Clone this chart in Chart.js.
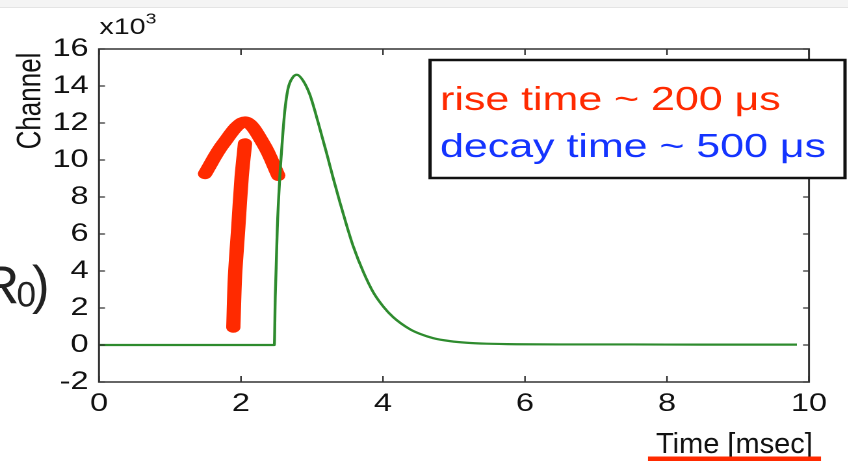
<!DOCTYPE html>
<html><head><meta charset="utf-8">
<script src="https://cdn.jsdelivr.net/npm/chart.js@4.4.1/dist/chart.umd.min.js"></script>
<style>
html,body{margin:0;padding:0;background:#fff;overflow:hidden}
#stage{position:relative;width:848px;height:461px;overflow:hidden;background:#fff}
#wrap{position:absolute;left:0;top:0;width:652px;height:461px;transform:scaleX(1.3);transform-origin:0 0}
</style></head><body>
<div id="stage"><div id="wrap"><canvas id="c"></canvas></div></div>
<script>
// ---- data (time in msec, channel in units of 10^3) ----
const timeMs   = [0, 2.469, 2.483, 2.511, 2.545, 2.577, 2.615, 2.662, 2.732, 2.789, 2.873, 2.968, 3.085, 3.207, 3.300, 3.394, 3.489, 3.582, 3.723, 3.863, 4.004, 4.145, 4.380, 4.521, 4.708, 4.944, 5.179, 5.461, 5.883, 6.5, 7.5, 8.5, 9.83];
const channelK = [0, 0, 2.66, 6.27, 8.98, 10.78, 12.59, 13.85, 14.48, 14.61, 14.30, 13.55, 12.05, 10.35, 9.00, 7.70, 6.45, 5.32, 3.95, 2.85, 2.08, 1.50, 0.85, 0.60, 0.37, 0.21, 0.12, 0.07, 0.04, 0.03, 0.03, 0.02, 0.02];
// hand-drawn arrow annotation (data coordinates)
const arrowShaftT = [1.892, 1.915, 1.962, 2.009, 2.056];
const arrowShaftV = [0.96, 3.67, 6.37, 9.08, 10.88];
const arrowHeadT  = [1.493, 1.751, 2.056, 2.314, 2.525];
const arrowHeadV  = [9.26, 10.88, 12.06, 10.88, 9.16];
const xTicks = [0, 2, 4, 6, 8, 10];
const yTicks = [-2, 0, 2, 4, 6, 8, 10, 12, 14, 16];
const legendLines = ['rise time ~ 200 μs', 'decay time ~ 500 μs'];
const xTitle = 'Time [msec]';
const yTitle = 'Channel';
const yExponent = ['x10', '3'];

const S = 1.3; // horizontal stretch of the original figure
const FONT = "'Liberation Sans', Arial, Helvetica, sans-serif";
Chart.defaults.font.family = FONT;

const pts = (xs, ys) => xs.map((x, i) => ({x, y: ys[i]}));

const decor = {
  id: 'decor',
  beforeDraw(chart) {
    const ctx = chart.ctx;
    ctx.save();
    ctx.fillStyle = '#f4f4f4';
    ctx.fillRect(0, 0, chart.width, 7);
    ctx.fillStyle = '#e4e4e4';
    ctx.fillRect(0, 7, chart.width, 1);
    ctx.restore();
  },
  afterDraw(chart) {
    const ctx = chart.ctx;
    const a = chart.chartArea;
    const xs = chart.scales.x, ys = chart.scales.y;
    ctx.save();
    // frame
    ctx.strokeStyle = '#333';
    ctx.lineWidth = 1.5;
    ctx.strokeRect(a.left, a.top, a.right - a.left, a.bottom - a.top);
    // inward tick marks
    ctx.lineWidth = 1.2;
    ctx.beginPath();
    xTicks.forEach(v => {
      const px = xs.getPixelForValue(v);
      ctx.moveTo(px, a.bottom); ctx.lineTo(px, a.bottom - 6);
      ctx.moveTo(px, a.top); ctx.lineTo(px, a.top + 6);
    });
    yTicks.forEach(v => {
      const py = ys.getPixelForValue(v);
      ctx.moveTo(a.left, py); ctx.lineTo(a.left + 4.6, py);
      ctx.moveTo(a.right, py); ctx.lineTo(a.right - 4.6, py);
    });
    ctx.stroke();
    // exponent label
    ctx.fillStyle = '#111';
    ctx.textBaseline = 'alphabetic';
    ctx.textAlign = 'left';
    ctx.font = '22px ' + FONT;
    ctx.fillText(yExponent[0], 76.5, 34);
    const w = ctx.measureText(yExponent[0]).width;
    ctx.font = '15px ' + FONT;
    ctx.fillText(yExponent[1], 76.5 + w, 23.5);
    // y title
    ctx.save();
    ctx.translate(24, 101);
    ctx.rotate(-Math.PI / 2);
    ctx.textAlign = 'center';
    ctx.textBaseline = 'middle';
    ctx.font = '26px ' + FONT;
    ctx.fillText(yTitle, 0, 0);
    ctx.restore();
    // legend box
    ctx.fillStyle = '#fff';
    ctx.fillRect(330.8, 60, 319.2, 118);
    ctx.strokeStyle = '#111';
    ctx.lineWidth = 2.5;
    ctx.strokeRect(330.8, 60, 319.2, 118);
    ctx.font = '33px ' + FONT;
    ctx.fillStyle = '#ff2a00';
    ctx.fillText(legendLines[0], 338.5, 110);
    ctx.fillStyle = '#1434ff';
    ctx.fillText(legendLines[1], 338.5, 157);
    // slide annotations (not stretched)
    ctx.save();
    ctx.scale(1 / S, 1);
    ctx.fillStyle = '#111';
    ctx.font = '29px ' + FONT;
    ctx.fillText(xTitle, 656, 453);
    ctx.fillStyle = '#ff2a00';
    ctx.fillRect(648, 456.5, 173, 4.5);
    ctx.fillStyle = '#222';
    ctx.font = '53px ' + FONT;
    ctx.fillText('R', -19, 303);
    ctx.font = '35px ' + FONT;
    ctx.fillText('0', 16.5, 306.5);
    ctx.font = '53px ' + FONT;
    ctx.fillText(')', 32, 303);
    ctx.restore();
    ctx.restore();
  }
};

new Chart(document.getElementById('c'), {
  type: 'line',
  data: {
    datasets: [
      {
        data: pts(timeMs, channelK),
        borderColor: '#2e8b2e',
        borderWidth: 2.2,
        pointRadius: 0,
        cubicInterpolationMode: 'monotone',
        order: 0
      },
      {
        data: pts(arrowShaftT, arrowShaftV),
        borderColor: '#ff2a00',
        borderWidth: 11,
        borderCapStyle: 'round',
        borderJoinStyle: 'round',
        pointRadius: 0,
        tension: 0.3,
        order: 1
      },
      {
        data: pts(arrowHeadT, arrowHeadV),
        borderColor: '#ff2a00',
        borderWidth: 11,
        borderCapStyle: 'round',
        borderJoinStyle: 'round',
        pointRadius: 0,
        tension: 0.35,
        order: 1
      }
    ]
  },
  options: {
    responsive: true,
    maintainAspectRatio: false,
    devicePixelRatio: 2,
    animation: false,
    layout: {padding: {left: 0, right: 29.7, top: 49, bottom: 0}},
    plugins: {legend: {display: false}, tooltip: {enabled: false}},
    scales: {
      x: {
        type: 'linear', min: 0, max: 10,
        afterFit: s => { s.height = 79; },
        afterBuildTicks: s => { s.ticks = xTicks.map(v => ({value: v})); },
        grid: {display: false, drawTicks: false},
        border: {display: false},
        ticks: {color: '#111', font: {size: 25}, padding: 7, maxRotation: 0, autoSkip: false}
      },
      y: {
        type: 'linear', min: -2, max: 16,
        afterFit: s => { s.width = 76.15; },
        afterBuildTicks: s => { s.ticks = yTicks.map(v => ({value: v})); },
        grid: {display: false, drawTicks: false},
        border: {display: false},
        ticks: {color: '#111', font: {size: 25}, padding: 8, autoSkip: false}
      }
    }
  },
  plugins: [decor]
});
</script>
</body></html>
